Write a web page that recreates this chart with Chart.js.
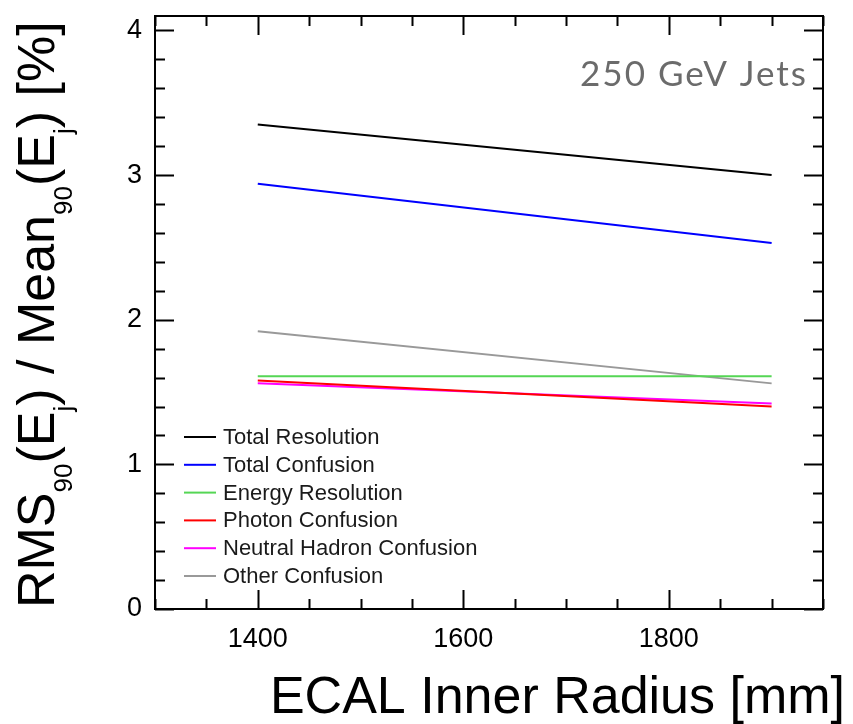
<!DOCTYPE html>
<html>
<head>
<meta charset="utf-8">
<script src="https://cdn.jsdelivr.net/npm/chart.js@4/dist/chart.umd.min.js"></script>
<style>
  body { margin: 0; background: #fff; }
  #wrap { position: relative; width: 853px; height: 724px; }
  #ytitle {
    position: absolute; left: 10px; top: 608px;
    transform-origin: 0 0; transform: rotate(-90deg);
    font: 52px "Liberation Sans", Arial, sans-serif; line-height: 52px;
    white-space: nowrap; color: #000;
  }
  #ytitle span { font-size: 26px; vertical-align: -18px; line-height: 0; }
</style>
</head>
<body>
<div id="wrap">
  <canvas id="chart" width="853" height="724"></canvas>
  <div id="ytitle">RMS<span>90</span>(E<span>j</span>) / Mean<span>90</span>(E<span>j</span>) [%]</div>
</div>
<script>
//********************
//DATA
//********************
const radius = [1400, 1900];
const totalResolution = [3.35, 3.0];
const totalConfusion = [2.94, 2.53];
const energyResolution = [1.61, 1.61];
const photonConfusion = [1.58, 1.40];
const neutralHadronConfusion = [1.56, 1.42];
const otherConfusion = [1.92, 1.56];

const seriesNames = ["Total Resolution", "Total Confusion", "Energy Resolution",
  "Photon Confusion", "Neutral Hadron Confusion", "Other Confusion"];
const seriesColors = ["#000000", "#0000ff", "#55d655", "#ff0000", "#ff00ff", "#999999"];

const xTickValues = [1400, 1600, 1800];
const yTickValues = [0, 1, 2, 3, 4];

const xTitle = "ECAL Inner Radius [mm]";
const label = "250 GeV Jets";

const seriesValues = [totalResolution, totalConfusion, energyResolution,
  photonConfusion, neutralHadronConfusion, otherConfusion];

const FONT = '"Liberation Sans", Arial, sans-serif';

//******FRAME, TICKS, LEGEND********
const framePlugin = {
  id: 'frame',
  afterDraw(chart) {
    const ctx = chart.ctx;
    const a = chart.chartArea;
    const xs = chart.scales.x, ys = chart.scales.y;
    ctx.save();
    ctx.strokeStyle = '#000';
    ctx.lineWidth = 2;
    ctx.strokeRect(a.left, a.top, a.right - a.left, a.bottom - a.top);

    ctx.beginPath();
    // x ticks, every 50 mm, major on labelled values
    for (let v = 1300; v <= 1950; v += 50) {
      const px = Math.round(xs.getPixelForValue(v)) + 0.5;
      const len = xTickValues.includes(v) ? 19 : 10;
      ctx.moveTo(px, a.bottom); ctx.lineTo(px, a.bottom - len);
      ctx.moveTo(px, a.top); ctx.lineTo(px, a.top + len);
    }
    // y ticks, every 0.2
    for (let i = 0; i <= 20; i++) {
      const v = i * 0.2;
      const py = Math.round(ys.getPixelForValue(v)) + 0.5;
      const len = i % 5 === 0 ? 19 : 10;
      ctx.moveTo(a.left, py); ctx.lineTo(a.left + len, py);
      ctx.moveTo(a.right, py); ctx.lineTo(a.right - len, py);
    }
    ctx.stroke();

    // legend
    ctx.font = '22px ' + FONT;
    ctx.textBaseline = 'middle';
    ctx.textAlign = 'left';
    chart.data.datasets.forEach((ds, i) => {
      const y = 437 + i * 27.8;
      ctx.strokeStyle = ds.borderColor;
      ctx.lineWidth = 2;
      ctx.beginPath();
      ctx.moveTo(a.left + 29, y); ctx.lineTo(a.left + 61, y);
      ctx.stroke();
      ctx.fillStyle = '#1a1a1a';
      ctx.fillText(ds.label, a.left + 68, y + 1);
    });

    // label
    ctx.font = '35px Lato, "Open Sans", sans-serif';
    ctx.letterSpacing = '2px';
    ctx.fillStyle = '#6b6b6b';
    ctx.textAlign = 'right';
    ctx.textBaseline = 'alphabetic';
    ctx.fillText(label, 808, 86);
    ctx.letterSpacing = '0px';

    // x title
    ctx.font = '52px ' + FONT;
    ctx.fillStyle = '#000';
    ctx.fillText(xTitle, 845, 713);
    ctx.restore();
  }
};

var ctx = document.getElementById("chart");
var chart = new Chart(ctx, {
  type: 'scatter',
  data: {
    datasets: seriesNames.map((name, i) => ({
      label: name,
      data: radius.map((x, j) => ({ x: x, y: seriesValues[i][j] })),
      borderColor: seriesColors[i],
      backgroundColor: seriesColors[i],
      borderWidth: 2,
      pointRadius: 0,
      showLine: true,
      fill: false
    }))
  },
  options: {
    responsive: false,
    animation: false,
    devicePixelRatio: 1,
    layout: { padding: { left: 0, top: 16, right: 30, bottom: 0 } },
    plugins: {
      legend: { display: false },
      tooltip: { enabled: false }
    },
    scales: {
      x: {
        type: 'linear',
        min: 1300,
        max: 1950,
        afterFit: (s) => { s.height = 115; s.paddingLeft = 0; s.paddingRight = 0; },
        afterBuildTicks: (s) => { s.ticks = xTickValues.map(v => ({ value: v })); },
        grid: { display: false, drawTicks: false },
        border: { display: false },
        ticks: { color: '#000', font: { family: FONT, size: 27 }, padding: 14, maxRotation: 0,
          callback: (v) => String(v) }
      },
      y: {
        type: 'linear',
        min: 0,
        max: 4.1,
        afterFit: (s) => { s.width = 155; s.paddingTop = 0; s.paddingBottom = 0; },
        afterBuildTicks: (s) => { s.ticks = yTickValues.map(v => ({ value: v })); },
        grid: { display: false, drawTicks: false },
        border: { display: false },
        ticks: { color: '#000', font: { family: FONT, size: 27 }, padding: 13 }
      }
    }
  },
  plugins: [framePlugin]
});
</script>
</body>
</html>
